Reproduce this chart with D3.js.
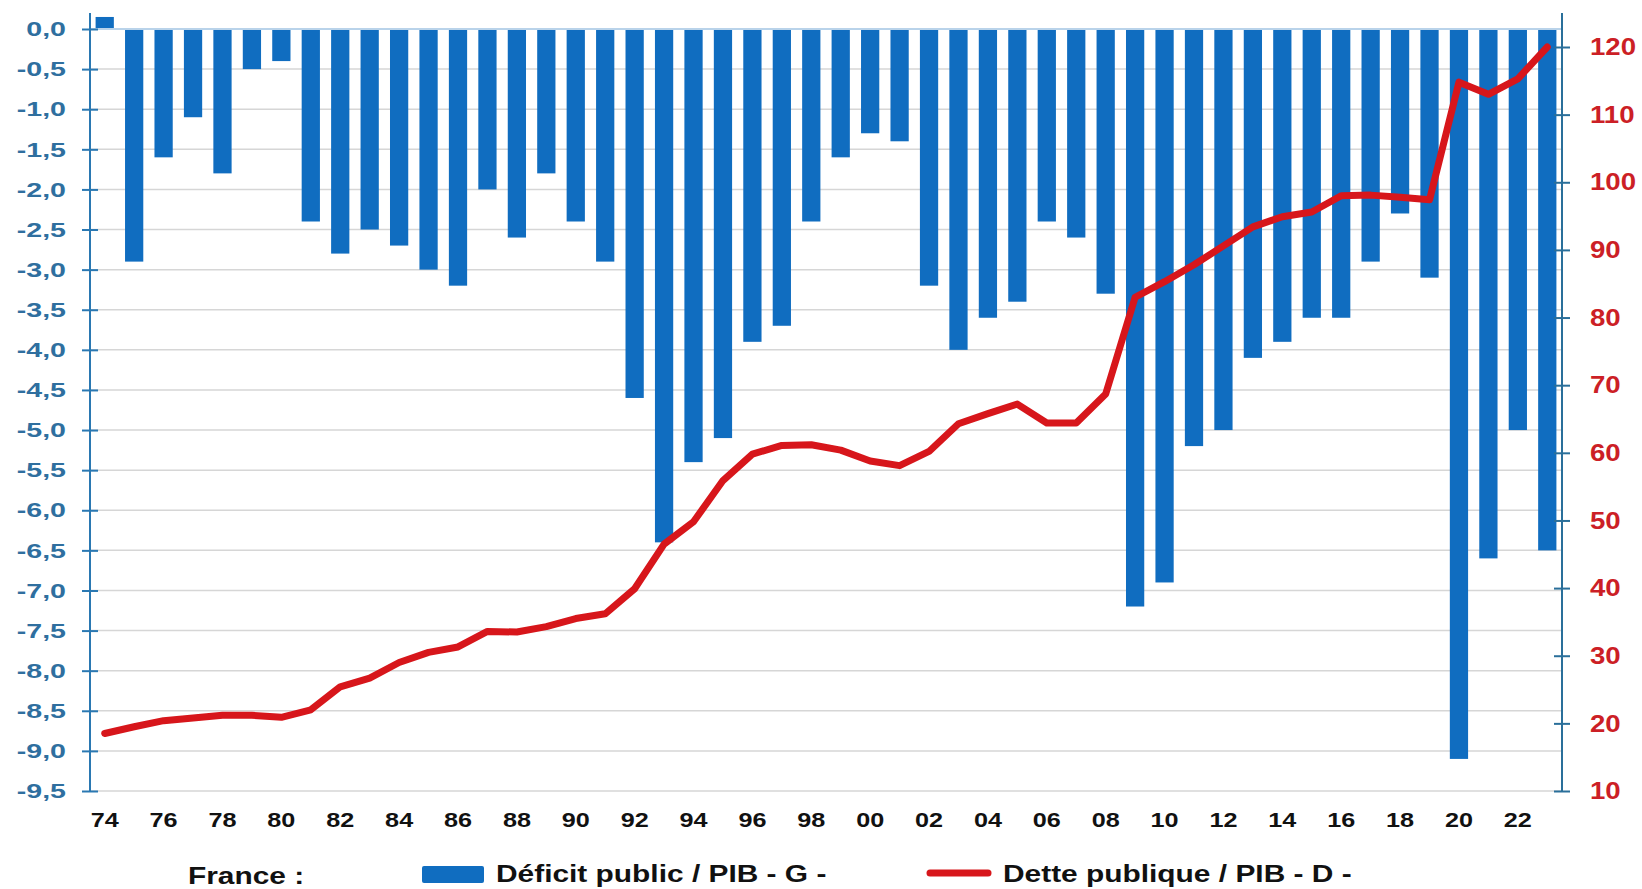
<!DOCTYPE html>
<html>
<head>
<meta charset="utf-8">
<style>
body { margin: 0; background: #fff; }
svg { display: block; font-family: "Liberation Sans", Arial, sans-serif; }
.grid line { stroke: #d6d6d6; stroke-width: 1.5px; }
.yl text { fill: #2f6f9f; font-weight: bold; font-size: 21px; }
.yr text { fill: #cc1f26; font-weight: bold; font-size: 24px; }
.xa text { fill: #111; font-weight: bold; font-size: 21px; }
.legend text { fill: #111; font-weight: bold; font-size: 23px; }
</style>
</head>
<body>
<svg width="1642" height="889"></svg>
<script src="https://cdn.jsdelivr.net/npm/d3@7"></script>
<script>
var years = d3.range(1974, 2024)
var deficit = [0.15, -2.9, -1.6, -1.1, -1.8, -0.5, -0.4, -2.4, -2.8, -2.5,
               -2.7, -3.0, -3.2, -2.0, -2.6, -1.8, -2.4, -2.9, -4.6, -6.4,
               -5.4, -5.1, -3.9, -3.7, -2.4, -1.6, -1.3, -1.4, -3.2, -4.0,
               -3.6, -3.4, -2.4, -2.6, -3.3, -7.2, -6.9, -5.2, -5.0, -4.1,
               -3.9, -3.6, -3.6, -2.9, -2.3, -3.1, -9.1, -6.6, -5.0, -6.5]
var dette = [18.5, 19.5, 20.4, 20.8, 21.2, 21.2, 20.9, 22.0, 25.4, 26.7,
             29.0, 30.5, 31.3, 33.6, 33.5, 34.3, 35.5, 36.2, 39.9, 46.5,
             49.8, 55.9, 59.8, 61.1, 61.2, 60.4, 58.8, 58.1, 60.2, 64.3,
             65.8, 67.2, 64.4, 64.4, 68.7, 83.0, 85.3, 87.8, 90.6, 93.4,
             94.9, 95.6, 98.0, 98.1, 97.8, 97.4, 114.8, 113.0, 115.3, 120.0]
var leftTicks = d3.range(0, -9.51, -0.5)
var rightTicks = d3.range(10, 121, 10)
var xLabels = d3.range(1974, 2024, 2)

const svg = d3.select('svg')
const x0 = 90, x1 = 1562

// the source picture has wide, stretched lettering
function stretch(sel, s) {
  sel.each(function () {
    const t = d3.select(this)
    const xv = +t.attr('x') || 0
    t.attr('x', xv / s).attr('transform', 'scale(' + s + ',1)')
  })
}

const x = d3.scaleBand().domain(years).range([x0, x1]).paddingInner(0.38).paddingOuter(0.19)
const yL = d3.scaleLinear().domain([-9.5, 0]).range([791, 29])
const yR = d3.scaleLinear().domain([10, 120]).range([791, 47])

// grid
svg.append('g').attr('class', 'grid')
  .selectAll('line').data(leftTicks).enter().append('line')
  .attr('x1', x0).attr('x2', x1)
  .attr('y1', d => yL(d)).attr('y2', d => yL(d))

// bars
svg.append('g').selectAll('rect').data(years).enter().append('rect')
  .attr('x', d => x(d))
  .attr('width', x.bandwidth())
  .attr('y', (d, i) => yL(Math.max(0, deficit[i])))
  .attr('height', (d, i) => Math.abs(yL(deficit[i]) - yL(0)))
  .attr('fill', '#106dc0')

// zero line
svg.append('line').attr('x1', x0).attr('x2', x1)
  .attr('y1', yL(0)).attr('y2', yL(0))
  .attr('stroke', '#b9d3ea').attr('stroke-width', 2)

// debt line
const line = d3.line()
  .x((d, i) => x(years[i]) + x.bandwidth() / 2)
  .y(d => yR(d))
svg.append('path').datum(dette)
  .attr('d', line)
  .attr('fill', 'none')
  .attr('stroke', '#d7161b')
  .attr('stroke-width', 7)
  .attr('stroke-linejoin', 'round')
  .attr('stroke-linecap', 'round')

// left axis
const axL = svg.append('g').attr('class', 'yl').attr('transform', 'translate(' + x0 + ',0)')
  .call(d3.axisLeft(yL).tickValues(leftTicks).tickSize(8)
    .tickFormat(d => d3.format('.1f')(d).replace('.', ',').replace('−', '-')))
axL.select('.domain').remove()
axL.selectAll('.tick line').attr('stroke', '#2a78b2').attr('stroke-width', 2).attr('x2', 8).attr('x1', -8)
axL.selectAll('.tick text').attr('x', -24).call(stretch, 1.36)
svg.append('line').attr('x1', x0).attr('x2', x0).attr('y1', 13).attr('y2', 791)
  .attr('stroke', '#2a78b2').attr('stroke-width', 2)

// right axis
const axR = svg.append('g').attr('class', 'yr').attr('transform', 'translate(' + x1 + ',0)')
  .call(d3.axisRight(yR).tickValues(rightTicks).tickSize(8))
axR.select('.domain').remove()
axR.selectAll('.tick line').attr('stroke', '#2a6f9a').attr('stroke-width', 2).attr('x1', -8).attr('x2', 8)
axR.selectAll('.tick text').attr('x', 28).call(stretch, 1.15)
svg.append('line').attr('x1', x1).attr('x2', x1).attr('y1', 13).attr('y2', 791)
  .attr('stroke', '#2a6f9a').attr('stroke-width', 2)

// x axis labels
const axX = svg.append('g').attr('class', 'xa').attr('transform', 'translate(0,' + 800 + ')')
  .call(d3.axisBottom(x).tickValues(xLabels).tickSize(0)
    .tickFormat(d => String(d).slice(2)))
axX.select('.domain').remove()
axX.selectAll('.tick text').attr('dy', '1.15em').call(stretch, 1.2)

// legend
const lg = svg.append('g').attr('class', 'legend')
lg.append('text').attr('x', 188).attr('y', 884).text('France :')
lg.append('rect').attr('x', 422).attr('y', 866).attr('width', 62).attr('height', 17)
  .attr('rx', 2).attr('fill', '#106dc0')
lg.append('text').attr('x', 496).attr('y', 882).text('Déficit public / PIB - G -')
lg.append('line').attr('x1', 930).attr('x2', 988).attr('y1', 873).attr('y2', 873)
  .attr('stroke', '#d7161b').attr('stroke-width', 7).attr('stroke-linecap', 'round')
lg.append('text').attr('x', 1003).attr('y', 882).text('Dette publique / PIB - D -')
lg.selectAll('text').call(stretch, 1.3)
</script>
</body>
</html>
